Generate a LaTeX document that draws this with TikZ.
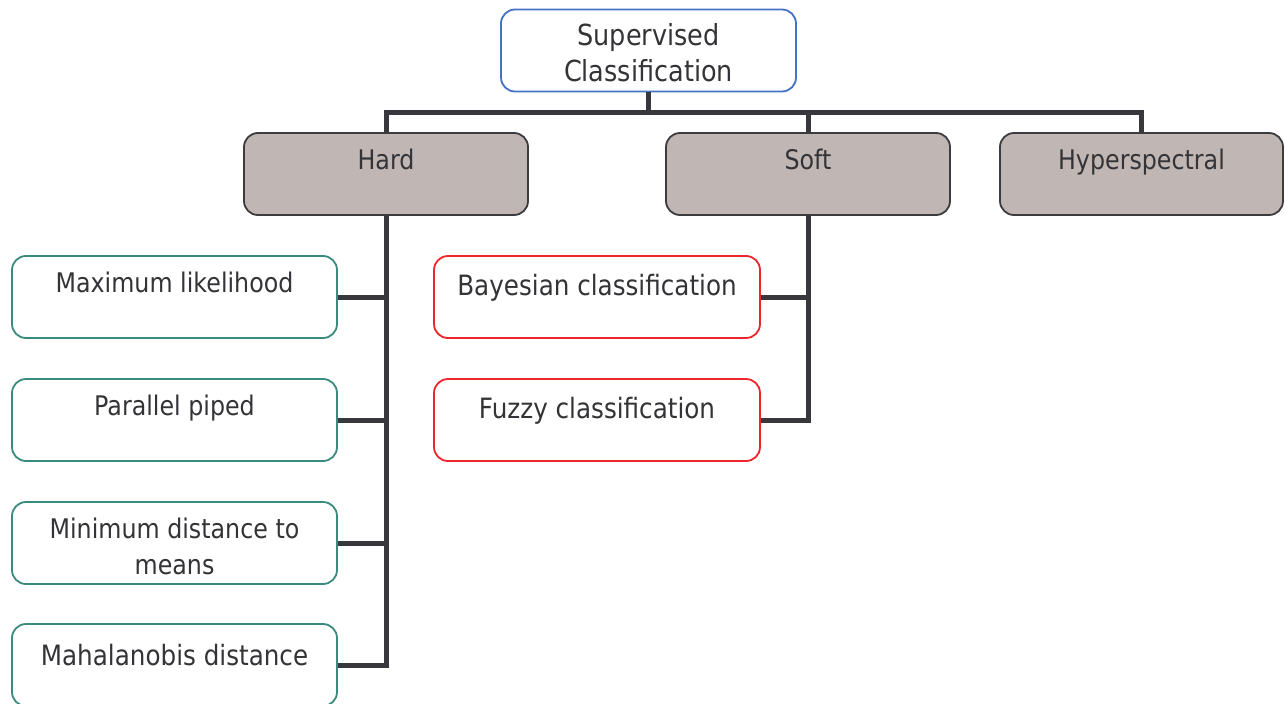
\documentclass[tikz,border=0pt]{standalone}
\usepackage{fontspec}
\setmainfont[FakeStretch=0.88]{DejaVu Sans}
\definecolor{txt}{RGB}{52,52,56}
\definecolor{wire}{RGB}{55,55,60}
\definecolor{rootblue}{RGB}{68,114,196}
\definecolor{catfill}{RGB}{192,182,179}
\definecolor{catline}{RGB}{60,60,64}
\definecolor{hardline}{RGB}{58,138,126}
\definecolor{softline}{RGB}{236,38,42}
% box text: [font size]{width}{text}; first baseline set below the top edge by the strut
\newcommand{\boxtext}[4][27]{\parbox[c][82pt][t]{#2}{\centering\fontsize{#1}{36}\selectfont\rule{0pt}{#3}#4}}
\tikzset{
  x=1pt, y=-1pt,
  every node/.style={text=txt, inner sep=0pt},
  box/.style={rectangle, rounded corners=14pt, line width=1.8pt},
  rootbox/.style={box, draw=rootblue, fill=white},
  catbox/.style={box, draw=catline, fill=catfill},
  hardbox/.style={box, draw=hardline, fill=white},
  softbox/.style={box, draw=softline, fill=white},
  wire/.style={draw=wire, line width=5pt},
}
\begin{document}
\begin{tikzpicture}
\useasboundingbox (0,0) rectangle (1285,704);

% root
\node[rootbox] (root) at (648.5,50.5) {\boxtext[29]{295pt}{36pt}{Supervised\\Classification}};

% categories
\node[catbox] (hard) at (386,174) {\boxtext{284pt}{36pt}{Hard}};
\node[catbox] (soft) at (808,174) {\boxtext{284pt}{36pt}{Soft}};
\node[catbox] (hyper) at (1141.5,174) {\boxtext{283pt}{36pt}{Hyperspectral}};

% hard methods
\node[hardbox] (ml) at (174.5,297) {\boxtext{325pt}{36pt}{Maximum likelihood}};
\node[hardbox] (pp) at (174.5,420) {\boxtext{325pt}{36pt}{Parallel piped}};
\node[hardbox] (md) at (174.5,543) {\boxtext{325pt}{36pt}{Minimum distance to\\means}};
\node[hardbox] (mh) at (174.5,665) {\boxtext[28]{325pt}{41pt}{Mahalanobis distance}};

% soft methods
\node[softbox] (bay) at (597,297) {\boxtext[28]{326pt}{39pt}{Bayesian classification}};
\node[softbox] (fuz) at (597,420) {\boxtext[28]{326pt}{39pt}{Fuzzy classification}};

% tree connectors
\coordinate (bus) at (648.5,112);
\draw[wire] (root.south) -- (bus);
\draw[wire] (hard.north) |- (bus) -| (hyper.north);
\draw[wire] (soft.north) -- (soft.north |- bus);

\draw[wire] (hard.south) |- (mh.east);
\draw[wire] (ml.east) -- (ml.east -| hard.south);
\draw[wire] (pp.east) -- (pp.east -| hard.south);
\draw[wire] (md.east) -- (md.east -| hard.south);

\draw[wire] (soft.south) |- (fuz.east);
\draw[wire] (bay.east) -- (bay.east -| soft.south);
\end{tikzpicture}
\end{document}
